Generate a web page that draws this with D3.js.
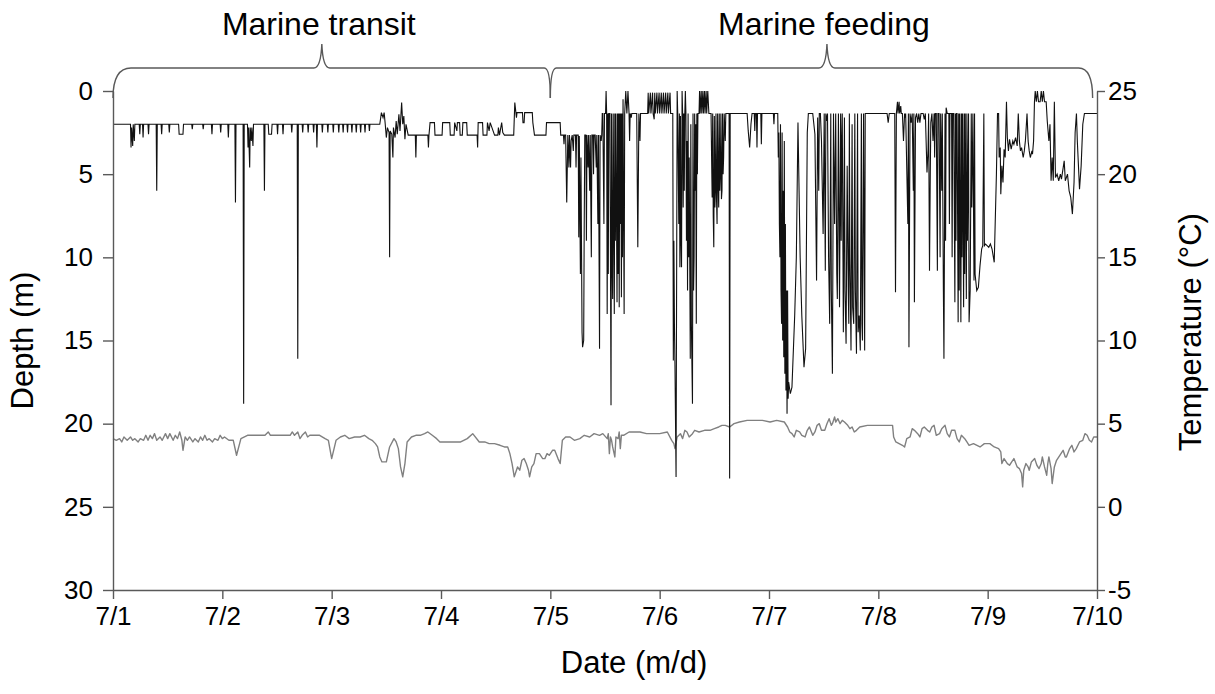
<!DOCTYPE html>
<meta charset="utf-8">
<style>
body { margin: 0; background: #fff; }
text { font-family: Arial, "Liberation Sans", sans-serif; fill: #000; }
.axis path, .axis line { stroke: #595959; stroke-width: 1.4px; }
.axis text { font-size: 26px; }
.title { font-size: 31px; }
.phase { font-size: 32px; }
</style>
<body>
<script src="https://cdn.jsdelivr.net/npm/d3@7"></script>
<script>

var width = 1215,
    height = 694;

// days since 7/1 00:00
var dayTicks = [0, 1, 2, 3, 4, 5, 6, 7, 8, 9];
var dayLabels = ["7/1", "7/2", "7/3", "7/4", "7/5", "7/6", "7/7", "7/8", "7/9", "7/10"];
var depthTicks = [0, 5, 10, 15, 20, 25, 30];
var tempTicks = [25, 20, 15, 10, 5, 0, -5];

// behaviour phases (days)
var phaseLabels = ["Marine transit", "Marine feeding"];
var phaseStart = [0, 4];
var phaseEnd = [4, 8.96];
var phasePeak = [1.91, 6.53];

// depth record [day, depth m]
var depthSeries = [
  [0.00,2.0],[0.16,2.0],[0.165,3.4],[0.17,2.2],[0.18,3.3],[0.185,2.0],[0.195,3.0],[0.20,2.0],[0.24,2.0],[0.245,2.6],[0.25,2.0],
  [0.27,2.0],[0.275,2.8],[0.28,2.0],[0.32,2.0],[0.325,2.6],[0.33,2.0],[0.395,2.0],[0.40,6.0],[0.405,2.0],[0.44,2.0],[0.445,2.6],
  [0.45,2.0],[0.51,2.0],[0.515,2.5],[0.52,2.0],[0.60,2.0],[0.605,2.6],[0.64,2.6],[0.645,2.0],[0.72,2.0],[0.725,2.3],[0.73,2.0],
  [0.82,2.0],[0.825,2.3],[0.83,2.0],[0.90,2.0],[0.905,2.6],[0.91,2.0],[0.98,2.0],[0.985,2.5],[0.99,2.0],[1.05,2.0],[1.055,2.8],
  [1.06,2.0],[1.115,2.0],[1.12,6.7],[1.125,2.0],[1.19,2.0],[1.195,18.8],[1.20,2.0],[1.23,2.0],[1.235,3.4],[1.24,2.2],[1.25,4.6],
  [1.255,2.2],[1.265,3.0],[1.27,2.2],[1.28,3.3],[1.285,2.0],[1.38,2.0],[1.385,6.0],[1.39,2.0],[1.42,2.0],[1.425,2.6],[1.45,2.6],
  [1.455,2.0],[1.50,2.0],[1.505,2.6],[1.51,2.0],[1.55,2.0],[1.555,2.6],[1.56,2.0],[1.63,2.0],[1.635,2.5],[1.64,2.0],[1.685,2.0],
  [1.69,16.1],[1.695,2.0],[1.73,2.0],[1.735,2.5],[1.74,2.0],[1.78,2.0],[1.785,2.5],[1.79,2.0],[1.83,2.0],[1.835,2.5],[1.84,2.0],
  [1.86,2.0],[1.865,3.4],[1.87,2.0],[1.91,2.0],[1.915,2.5],[1.92,2.0],[1.96,2.0],[1.965,2.5],[1.97,2.0],[2.01,2.0],[2.015,2.5],
  [2.02,2.0],[2.06,2.0],[2.065,2.5],[2.07,2.0],[2.10,2.0],[2.105,2.5],[2.11,2.0],[2.14,2.0],[2.145,2.5],[2.15,2.0],[2.18,2.0],
  [2.185,2.5],[2.19,2.0],[2.22,2.0],[2.225,2.5],[2.23,2.0],[2.26,2.0],[2.265,2.5],[2.27,2.0],[2.30,2.0],[2.305,2.5],[2.31,2.0],
  [2.34,2.0],[2.345,2.4],[2.35,2.0],[2.44,2.0],[2.455,1.3],[2.47,1.6],[2.48,1.3],[2.49,2.0],[2.50,2.8],[2.51,2.2],[2.525,2.5],
  [2.53,10.0],[2.535,2.4],[2.55,2.6],[2.56,4.0],[2.565,2.2],[2.58,2.8],[2.59,1.8],[2.60,2.6],[2.615,1.4],[2.625,2.4],[2.64,0.7],
  [2.65,2.0],[2.66,1.5],[2.67,2.9],[2.68,2.0],[2.70,2.65],[2.765,2.65],[2.77,4.0],[2.775,2.65],[2.88,2.65],[2.885,3.4],[2.89,2.65],
  [2.90,1.9],[2.94,1.9],[2.945,2.65],[3.01,2.65],[3.015,1.9],[3.08,1.9],[3.085,2.65],[3.12,2.65],[3.125,1.9],[3.145,2.4],[3.15,1.9],
  [3.17,1.9],[3.175,2.65],[3.195,2.65],[3.20,1.9],[3.235,1.9],[3.24,2.65],[3.33,2.65],[3.335,3.4],[3.34,1.9],[3.38,1.9],[3.385,2.65],
  [3.42,2.65],[3.425,1.9],[3.44,2.4],[3.45,1.9],[3.49,2.65],[3.52,2.65],[3.525,2.2],[3.535,2.65],[3.555,1.9],[3.565,2.5],[3.58,2.65],
  [3.665,2.65],[3.675,0.7],[3.69,1.6],[3.695,1.3],[3.745,1.3],[3.75,1.9],[3.76,1.9],[3.765,1.3],[3.835,1.3],[3.84,1.9],[3.855,2.65],
  [3.96,2.65],[3.965,1.9],[4.09,1.9],[4.095,2.65],
  [4.12,2.65],[4.125,3.2],[4.13,2.65],[4.14,2.65],[4.15,6.7],[4.16,2.65],[4.17,4.6],[4.175,2.65],[4.185,4.6],[4.19,3.0],[4.20,2.65],
  [4.21,3.6],[4.215,2.65],[4.23,2.65],[4.235,4.6],[4.24,2.65],[4.255,2.65],[4.26,8.8],[4.265,2.7],[4.275,11.0],[4.28,4.0],[4.29,14.5],
  [4.295,15.4],[4.305,15.0],[4.31,8.0],[4.315,2.65],[4.325,2.65],[4.33,9.0],[4.335,2.65],[4.345,4.6],[4.35,2.65],[4.36,6.0],
  [4.365,2.65],[4.375,10.0],[4.38,2.65],[4.39,2.65],[4.395,5.0],[4.40,2.65],[4.41,2.65],[4.42,4.6],[4.425,2.65],[4.435,8.0],
  [4.44,2.65],[4.45,15.5],[4.455,2.65],[4.465,3.0],[4.47,2.65],[4.475,1.35],
  [4.48,1.35],[4.49,8.0],[4.495,1.35],[4.505,1.35],[4.51,0.0],[4.515,1.35],[4.52,13.4],[4.525,1.35],[4.53,11.0],[4.535,1.35],
  [4.545,1.35],[4.555,18.9],[4.56,1.35],[4.565,10.0],[4.57,12.5],[4.575,1.35],[4.585,13.4],[4.59,1.35],[4.595,9.0],[4.60,1.35],
  [4.61,12.7],[4.615,1.35],[4.62,11.0],[4.625,1.35],[4.63,13.0],[4.635,1.35],[4.64,8.0],[4.645,1.35],[4.65,12.4],[4.655,1.35],
  [4.66,10.0],[4.665,0.5],[4.675,13.4],[4.68,1.35],[4.69,0.0],[4.70,1.35],[4.71,0.0],[4.72,1.35],[4.725,3.0],[4.73,1.35],
  [4.74,1.6],[4.745,1.35],[4.79,1.35],[4.80,9.4],[4.81,1.35],[4.82,3.0],[4.825,1.35],
  [4.89,1.35],[4.895,0.1],[4.90,1.35],[4.915,0.1],[4.92,1.35],[4.935,0.1],[4.94,1.35],[4.95,1.7],[4.955,0.1],[4.96,1.35],
  [4.975,0.1],[4.98,1.35],[4.995,0.1],[5.00,1.35],[5.015,0.1],[5.02,1.35],[5.035,0.1],[5.04,1.35],[5.055,0.1],[5.06,1.35],
  [5.075,0.1],[5.08,1.35],[5.095,0.1],[5.10,1.35],
  [5.12,1.35],[5.125,16.2],[5.13,9.0],[5.135,14.0],[5.14,16.5],[5.15,23.2],[5.16,0.0],[5.165,1.35],[5.175,8.0],[5.18,1.35],
  [5.185,10.6],[5.19,1.5],[5.195,9.0],[5.20,10.6],[5.205,0.0],[5.21,1.35],[5.215,7.0],[5.22,1.35],[5.225,6.0],[5.23,1.35],
  [5.235,0.0],[5.24,1.35],[5.245,9.0],[5.25,3.0],[5.255,12.0],[5.26,1.35],[5.265,10.0],[5.27,4.0],[5.28,16.1],[5.285,2.0],
  [5.29,14.0],[5.30,18.8],[5.305,1.35],[5.31,12.0],[5.315,10.0],[5.32,1.35],[5.325,6.0],[5.33,2.0],[5.335,14.0],[5.34,1.35],
  [5.345,5.0],[5.35,1.35],[5.36,1.35],
  [5.365,0.0],[5.37,1.35],[5.38,0.0],[5.385,1.35],[5.395,0.0],[5.40,1.35],[5.41,0.0],[5.415,1.35],[5.425,0.0],[5.43,1.35],
  [5.44,0.0],[5.45,1.35],
  [5.47,1.35],[5.475,4.0],[5.48,6.4],[5.485,1.35],[5.49,7.5],[5.495,9.4],[5.50,1.5],[5.505,7.0],[5.51,6.0],[5.515,1.35],
  [5.52,6.5],[5.525,8.0],[5.53,1.35],[5.535,5.5],[5.54,7.0],[5.545,1.35],[5.55,6.0],[5.555,5.0],[5.56,1.35],[5.565,6.5],
  [5.57,6.0],[5.575,1.35],[5.58,5.0],[5.585,4.0],[5.59,1.35],[5.60,3.0],[5.605,1.35],
  [5.635,1.35],[5.64,23.3],[5.645,1.35],
  [5.80,1.35],[5.81,2.4],[5.823,3.4],[5.835,2.0],[5.845,1.35],[5.865,1.35],[5.87,2.4],[5.875,1.35],[5.885,1.35],[5.89,3.4],
  [5.895,1.35],[5.925,1.35],[5.93,3.2],[5.935,1.35],[6.04,1.35],[6.045,2.0],[6.05,1.35],
  [6.08,1.35],[6.085,4.0],[6.09,2.5],[6.095,8.0],[6.10,10.0],[6.105,2.0],[6.11,12.0],[6.115,14.0],[6.12,2.5],[6.125,15.0],
  [6.13,6.0],[6.135,16.0],[6.14,3.0],[6.145,17.0],[6.15,8.0],[6.155,18.0],[6.16,12.0],[6.165,19.4],[6.17,12.0],[6.175,18.5],
  [6.18,17.5],[6.195,18.2],[6.21,17.8],[6.235,13.5],[6.25,10.0],[6.265,1.9],[6.285,10.0],[6.30,13.5],[6.32,16.6],[6.335,15.5],
  [6.35,2.5],[6.36,1.35],
  [6.40,1.35],[6.42,2.6],[6.435,11.4],[6.445,1.6],[6.455,6.0],[6.46,1.35],[6.47,1.35],[6.48,3.0],[6.495,8.6],[6.505,1.35],
  [6.515,10.8],[6.52,1.35],[6.525,1.8],[6.535,1.35],[6.545,10.0],[6.555,14.0],[6.565,1.35],[6.57,12.0],[6.58,17.0],[6.59,1.35],
  [6.60,8.0],[6.61,1.35],[6.62,11.0],[6.625,12.5],[6.635,1.35],[6.645,13.0],[6.655,1.35],[6.66,9.0],[6.665,3.0],[6.67,1.35],
  [6.68,14.5],[6.69,1.6],[6.695,12.0],[6.705,15.2],[6.715,4.5],[6.725,12.0],[6.73,14.0],[6.735,1.35],[6.74,10.0],[6.75,15.6],
  [6.76,2.0],[6.765,13.0],[6.775,14.0],[6.785,1.35],[6.79,12.0],[6.80,15.8],[6.81,1.35],[6.815,14.5],[6.825,13.5],[6.835,15.6],
  [6.845,1.35],[6.85,14.0],[6.855,15.0],[6.865,1.35],[6.875,15.6],[6.88,1.35],
  [6.89,1.35],[7.08,1.35],[7.09,1.9],[7.10,1.35],[7.15,1.35],[7.157,12.1],[7.165,1.35],[7.175,0.65],[7.18,1.35],[7.19,0.65],
  [7.195,1.35],[7.205,0.9],[7.21,1.35],[7.22,1.35],[7.23,3.0],[7.24,1.35],[7.245,1.6],[7.25,1.35],[7.27,8.0],[7.275,1.35],
  [7.28,15.4],[7.29,1.35],[7.30,1.9],[7.31,1.35],[7.32,6.0],[7.325,1.35],[7.33,12.7],[7.34,1.6],[7.35,1.35],[7.36,1.9],
  [7.37,1.35],[7.38,1.9],[7.39,1.35],[7.41,1.35],[7.42,1.7],[7.43,1.35],[7.445,4.9],[7.455,3.5],[7.46,1.35],[7.468,10.8],
  [7.475,5.0],[7.48,1.9],[7.49,1.35],[7.50,3.0],[7.51,1.35],[7.515,4.0],[7.52,1.35],[7.53,1.35],[7.54,10.8],[7.545,1.35],
  [7.555,1.35],[7.565,10.0],[7.57,1.35],[7.58,6.0],[7.585,1.35],[7.595,12.0],[7.60,16.1],[7.61,1.35],[7.615,9.0],[7.62,1.0],
  [7.63,1.35],[7.645,1.35],[7.65,8.0],[7.655,1.35],[7.67,1.35],[7.675,10.0],[7.68,1.35],[7.69,1.35],[7.70,12.7],[7.705,1.35],
  [7.71,9.0],[7.715,1.35],[7.72,1.35],[7.73,13.9],[7.735,1.35],[7.74,12.0],[7.745,1.35],[7.755,13.9],[7.76,1.35],[7.765,10.0],
  [7.77,1.35],[7.78,13.0],[7.785,1.35],[7.79,11.0],[7.795,1.35],[7.805,12.5],[7.81,1.35],[7.815,9.0],[7.825,1.35],[7.83,13.9],
  [7.84,12.0],[7.85,1.35],[7.855,7.0],[7.865,1.35],[7.875,11.4],[7.88,1.35],[7.885,11.0],[7.90,12.0],[7.915,11.8],[7.93,10.5],
  [7.945,9.5],[7.955,9.3],[7.965,1.35],[7.97,9.3],[7.98,9.2],[7.995,9.3],[8.01,9.4],[8.025,9.2],[8.04,9.5],[8.06,10.3],
  [8.08,5.0],[8.09,1.35],[8.10,1.35],[8.105,4.0],[8.115,3.4],[8.12,6.2],[8.13,4.5],[8.14,5.5],[8.15,3.5],[8.16,4.0],
  [8.172,0.65],[8.18,2.8],[8.19,3.6],[8.20,2.9],[8.215,3.5],[8.23,3.0],[8.24,3.2],[8.255,2.8],[8.27,3.3],[8.28,1.35],
  [8.29,3.0],[8.30,3.6],[8.31,3.4],[8.325,4.0],[8.335,3.6],[8.345,3.0],[8.36,1.35],[8.37,3.0],[8.38,3.6],[8.39,4.0],
  [8.405,3.6],[8.41,3.8],[8.42,3.0],[8.428,0.65],[8.435,0.0],[8.445,0.65],[8.455,0.0],[8.465,0.65],[8.48,0.65],[8.49,0.0],
  [8.50,0.65],[8.51,0.0],[8.52,0.65],[8.535,0.65],[8.545,1.8],[8.56,3.0],[8.57,2.0],[8.58,5.4],[8.59,4.0],[8.60,5.4],
  [8.61,0.65],[8.62,5.2],[8.635,5.0],[8.65,5.4],[8.665,5.0],[8.675,5.3],[8.70,4.2],[8.71,5.4],[8.73,5.0],[8.745,6.0],
  [8.76,6.4],[8.775,7.4],[8.79,5.5],[8.80,2.5],[8.812,1.35],[8.82,3.0],[8.84,5.9],[8.855,4.5],[8.87,2.0],[8.885,1.35],[9.00,1.35]
];

// water temperature [day, degC]
var tempSeries = [
  [0.00,4.1],[0.03,4.0],[0.06,4.1],[0.08,3.9],[0.10,4.2],[0.13,4.0],[0.16,4.2],[0.18,4.0],[0.20,4.1],[0.23,3.9],[0.25,4.1],
  [0.28,4.0],[0.30,4.3],[0.32,4.0],[0.34,4.3],[0.36,4.1],[0.38,4.4],[0.40,4.0],[0.43,4.2],[0.45,4.0],[0.48,4.4],[0.50,4.1],
  [0.52,4.4],[0.55,4.0],[0.57,4.3],[0.59,4.1],[0.61,4.5],[0.63,4.0],[0.64,3.4],[0.66,4.2],[0.68,4.0],[0.70,4.2],[0.73,3.9],
  [0.75,4.1],[0.78,3.9],[0.80,4.2],[0.82,4.0],[0.84,4.3],[0.86,4.0],[0.88,4.1],[0.91,3.9],[0.93,4.1],[0.96,4.0],[0.98,4.3],
  [1.00,4.1],[1.02,4.2],[1.06,4.0],[1.10,4.0],[1.13,3.1],[1.17,4.1],[1.23,4.3],[1.30,4.3],[1.35,4.3],[1.39,4.3],[1.42,4.5],
  [1.44,4.3],[1.52,4.3],[1.58,4.3],[1.62,4.3],[1.64,4.5],[1.66,4.3],[1.69,4.5],[1.71,4.1],[1.73,4.3],[1.76,4.5],[1.78,4.2],
  [1.80,4.3],[1.85,4.3],[1.89,4.3],[1.94,4.1],[1.97,4.0],[2.00,2.9],[2.04,4.0],[2.08,4.2],[2.12,4.3],[2.16,4.1],[2.21,4.2],
  [2.26,4.2],[2.30,4.3],[2.34,4.1],[2.37,4.0],[2.40,3.8],[2.42,3.6],[2.44,3.0],[2.46,2.7],[2.50,2.7],[2.53,3.6],[2.57,4.1],
  [2.59,3.9],[2.61,3.5],[2.63,2.4],[2.65,1.8],[2.67,2.6],[2.69,3.9],[2.73,4.2],[2.77,4.3],[2.81,4.3],[2.85,4.4],[2.88,4.5],
  [2.92,4.3],[2.96,4.1],[2.99,3.9],[3.05,3.9],[3.13,3.9],[3.18,3.9],[3.24,4.1],[3.29,4.4],[3.35,3.9],[3.40,3.9],[3.44,3.8],
  [3.49,3.8],[3.54,3.7],[3.58,3.6],[3.61,3.6],[3.63,3.2],[3.65,2.6],[3.67,1.8],[3.69,2.2],[3.70,2.4],[3.72,2.2],[3.74,2.8],
  [3.76,2.9],[3.78,2.6],[3.80,2.2],[3.81,1.8],[3.83,2.4],[3.85,2.6],[3.87,3.2],[3.90,3.2],[3.93,2.9],[3.95,2.9],[3.97,3.2],
  [3.99,3.1],[4.02,3.4],[4.04,3.4],[4.07,2.9],[4.09,2.6],[4.11,4.0],[4.14,4.2],[4.18,4.2],[4.22,4.0],[4.27,4.1],[4.31,4.3],
  [4.36,4.2],[4.40,4.4],[4.45,4.3],[4.48,4.4],[4.52,4.1],[4.53,4.4],[4.54,3.2],[4.55,4.2],[4.56,4.0],[4.57,3.6],[4.59,3.0],
  [4.60,4.2],[4.62,4.1],[4.63,4.5],[4.64,3.5],[4.65,4.3],[4.67,4.3],[4.72,4.5],[4.77,4.5],[4.82,4.5],[4.88,4.4],[4.95,4.4],
  [5.00,4.4],[5.07,4.5],[5.11,4.0],[5.13,3.8],[5.14,3.5],[5.16,4.2],[5.19,4.4],[5.21,4.1],[5.23,4.6],[5.25,4.5],[5.27,4.2],
  [5.30,4.4],[5.32,4.6],[5.36,4.5],[5.41,4.6],[5.46,4.6],[5.50,4.7],[5.54,4.8],[5.57,4.9],[5.60,4.9],[5.64,4.8],[5.68,5.0],
  [5.73,5.1],[5.80,5.2],[5.87,5.2],[5.94,5.2],[6.01,5.1],[6.07,5.2],[6.14,5.1],[6.17,4.8],[6.19,4.5],[6.21,4.4],[6.23,4.2],
  [6.25,4.6],[6.28,4.5],[6.30,4.3],[6.33,4.2],[6.35,4.6],[6.37,4.8],[6.40,4.3],[6.42,4.5],[6.44,4.9],[6.46,5.0],[6.48,4.6],
  [6.51,4.6],[6.53,5.0],[6.55,5.3],[6.57,4.9],[6.58,5.0],[6.60,5.4],[6.61,5.1],[6.63,5.3],[6.65,5.0],[6.67,5.2],[6.69,5.1],
  [6.72,4.9],[6.74,4.7],[6.76,4.8],[6.78,4.5],[6.80,4.6],[6.83,4.8],[6.90,4.9],[6.96,4.9],[7.01,4.9],[7.07,4.9],[7.13,4.9],
  [7.14,4.2],[7.16,3.9],[7.19,3.8],[7.22,3.7],[7.24,3.6],[7.26,4.1],[7.29,4.2],[7.31,4.7],[7.33,4.6],[7.36,4.4],[7.38,4.2],
  [7.40,4.7],[7.42,4.8],[7.45,4.6],[7.47,4.5],[7.49,4.8],[7.51,4.9],[7.53,4.3],[7.56,4.4],[7.58,4.7],[7.61,4.9],[7.63,4.4],
  [7.65,4.2],[7.67,4.6],[7.70,4.6],[7.72,4.1],[7.74,3.9],[7.76,4.3],[7.79,4.1],[7.81,3.9],[7.83,3.7],[7.87,3.8],[7.93,3.6],
  [7.97,3.8],[8.02,3.8],[8.06,3.6],[8.10,3.5],[8.12,3.3],[8.13,2.6],[8.15,2.9],[8.18,2.6],[8.20,2.5],[8.22,2.7],[8.24,2.9],
  [8.27,2.4],[8.29,2.3],[8.31,2.0],[8.32,1.2],[8.33,2.2],[8.35,2.6],[8.37,2.4],[8.38,2.2],[8.40,2.7],[8.43,2.9],[8.45,2.5],
  [8.47,2.3],[8.49,2.6],[8.50,3.0],[8.52,2.4],[8.54,1.9],[8.55,2.6],[8.56,3.0],[8.58,2.3],[8.59,1.4],[8.61,2.4],[8.63,2.8],
  [8.66,3.1],[8.69,3.4],[8.71,3.0],[8.72,3.0],[8.75,3.5],[8.77,3.7],[8.79,3.3],[8.81,3.5],[8.84,3.9],[8.87,4.0],[8.89,4.4],
  [8.91,4.3],[8.93,4.0],[8.95,3.9],[8.97,4.2],[9.00,4.2]
];

var margin = {top: 91, right: 118, bottom: 104, left: 113};

var svg = d3.select("body").append("svg")
    .attr("width", width)
    .attr("height", height);

var x = d3.scaleLinear()
    .domain([0, 9])
    .range([margin.left, width - margin.right]);

var yDepth = d3.scaleLinear()
    .domain([0, 30])
    .range([margin.top, height - margin.bottom]);

var yTemp = d3.scaleLinear()
    .domain([25, -5])
    .range([margin.top, height - margin.bottom]);

// temperature underneath, depth on top
var tempLine = d3.line()
    .x(function(d) { return x(d[0]); })
    .y(function(d) { return yTemp(d[1]); });

var depthLine = d3.line()
    .x(function(d) { return x(d[0]); })
    .y(function(d) { return yDepth(d[1]); });

svg.append("path")
    .datum(tempSeries)
    .attr("fill", "none")
    .attr("stroke", "#808080")
    .attr("stroke-width", 1.4)
    .attr("stroke-linejoin", "round")
    .attr("d", tempLine);

svg.append("path")
    .datum(depthSeries)
    .attr("fill", "none")
    .attr("stroke", "#111")
    .attr("stroke-width", 1.1)
    .attr("d", depthLine);

// axes
svg.append("g")
    .attr("class", "axis")
    .attr("transform", "translate(0," + (height - margin.bottom) + ")")
    .call(d3.axisBottom(x)
      .tickValues(dayTicks)
      .tickFormat(function(d, i) { return dayLabels[i]; })
      .tickSizeInner(9).tickSizeOuter(0).tickPadding(8));

svg.append("g")
    .attr("class", "axis")
    .attr("transform", "translate(" + margin.left + ",0)")
    .call(d3.axisLeft(yDepth)
      .tickValues(depthTicks)
      .tickFormat(function(d) { return String(d); })
      .tickSizeInner(10).tickSizeOuter(0).tickPadding(10));

svg.append("g")
    .attr("class", "axis")
    .attr("transform", "translate(" + (width - margin.right) + ",0)")
    .call(d3.axisRight(yTemp)
      .tickValues(tempTicks)
      .tickFormat(function(d) { return String(d); })
      .tickSizeInner(8).tickSizeOuter(0).tickPadding(3));

svg.selectAll(".axis .domain").attr("stroke", "#595959");

// axis titles
svg.append("text")
    .attr("class", "title")
    .attr("x", 634)
    .attr("y", 673)
    .attr("text-anchor", "middle")
    .text("Date (m/d)");

svg.append("text")
    .attr("class", "title")
    .attr("transform", "translate(33," + yDepth(15) + ") rotate(-90)")
    .attr("text-anchor", "middle")
    .text("Depth (m)");

svg.append("text")
    .attr("class", "title")
    .attr("transform", "translate(1201," + yTemp(10.5) + ") rotate(-90)")
    .attr("text-anchor", "middle")
    .text("Temperature (\u00B0C)");

// curly braces marking the phases
var yBar = 68, yEnd = 98, yTip = 44;

function bracePath(i) {
  var x0 = x(phaseStart[i]), x1 = x(phaseEnd[i]), xp = x(phasePeak[i]);
  var r0 = i === 0 ? 18 : 6,
      r1 = i === phaseLabels.length - 1 ? 14 : 6;
  return "M" + x0 + "," + yEnd +
    "Q" + x0 + "," + yBar + " " + (x0 + r0) + "," + yBar +
    "L" + (xp - 8) + "," + yBar +
    "Q" + (xp - 1) + "," + yBar + " " + xp + "," + yTip +
    "Q" + (xp + 1) + "," + yBar + " " + (xp + 8) + "," + yBar +
    "L" + (x1 - r1) + "," + yBar +
    "Q" + x1 + "," + yBar + " " + x1 + "," + yEnd;
}

var phase = svg.selectAll("g.phase")
    .data(phaseLabels)
  .enter().append("g");

phase.append("path")
    .attr("d", function(d, i) { return bracePath(i); })
    .attr("fill", "none")
    .attr("stroke", "#595959")
    .attr("stroke-width", 1.4);

phase.append("text")
    .attr("class", "phase")
    .attr("x", function(d, i) { return x(phasePeak[i]) - 3; })
    .attr("y", 35)
    .attr("text-anchor", "middle")
    .text(function(d) { return d; });

</script>
